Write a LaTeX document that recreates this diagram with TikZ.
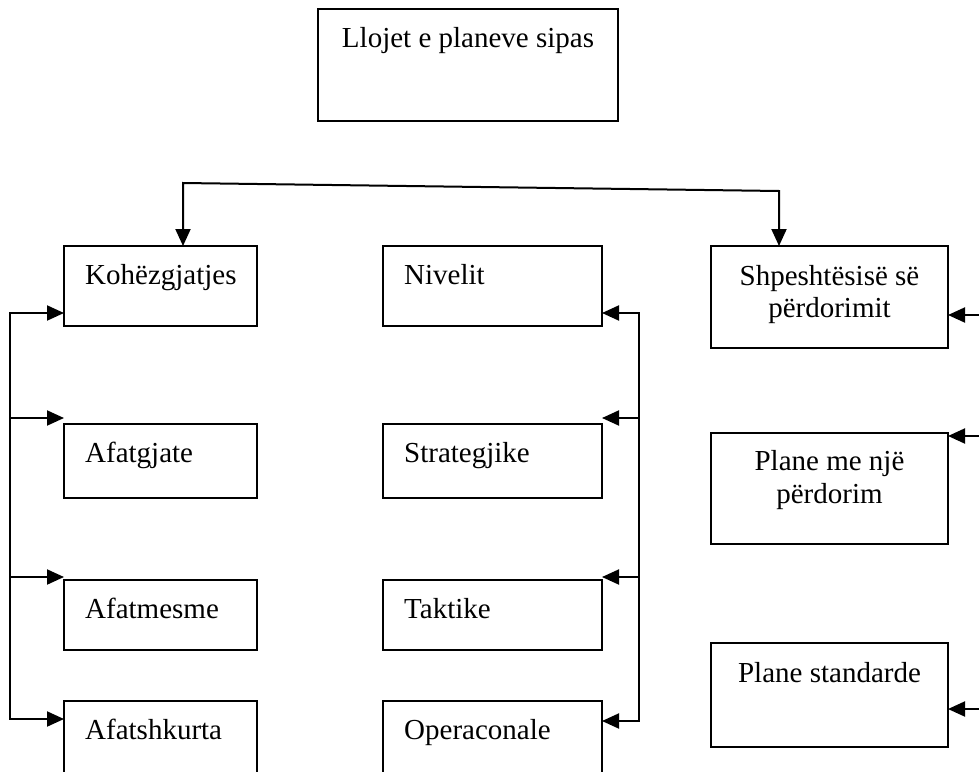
\documentclass[tikz,border=0pt]{standalone}
\usepackage{fontspec}
\setmainfont{Liberation Serif}
\usetikzlibrary{arrows.meta}
\begin{document}
\begin{tikzpicture}[x=1pt,y=-1pt,
  box/.style={draw, line width=1.9pt, rectangle, inner sep=0pt, outer sep=0pt, anchor=north west},
  lbl/.style={inner sep=0pt, font=\fontsize{29}{33}\selectfont},
  conn/.style={line width=2pt, -{Triangle[length=17pt,width=15pt]}},
  bus/.style={line width=2pt, {Triangle[length=17pt,width=15pt]}-{Triangle[length=17pt,width=15pt]}, line join=miter}]
\useasboundingbox (0,0) rectangle (979,771);
\clip (0,0) rectangle (979,771);

% title box
\node[box, minimum width=300pt, minimum height=112pt] (top) at (318,9) {};
\node[lbl, anchor=base] (topT) at (468,47) {Llojet e planeve sipas};

% first column
\node[box, minimum width=193pt, minimum height=80pt]  (koh) at (64,246) {};
\node[box, minimum width=193pt, minimum height=74pt]  (afg) at (64,424) {};
\node[box, minimum width=193pt, minimum height=70pt]  (afm) at (64,580) {};
\node[box, minimum width=193pt, minimum height=110pt] (afs) at (64,701) {};
\node[lbl, anchor=base west] (kohT) at ([shift={(21,38)}]koh.north west) {Kohëzgjatjes};
\node[lbl, anchor=base west] (afgT) at ([shift={(21,38)}]afg.north west) {Afatgjate};
\node[lbl, anchor=base west] (afmT) at ([shift={(21,38)}]afm.north west) {Afatmesme};
\node[lbl, anchor=base west] (afsT) at ([shift={(21,38)}]afs.north west) {Afatshkurta};

% second column
\node[box, minimum width=219pt, minimum height=80pt]  (niv) at (383,246) {};
\node[box, minimum width=219pt, minimum height=74pt]  (str) at (383,424) {};
\node[box, minimum width=219pt, minimum height=70pt]  (tak) at (383,580) {};
\node[box, minimum width=219pt, minimum height=110pt] (ope) at (383,701) {};
\node[lbl, anchor=base west] (nivT) at ([shift={(21,38)}]niv.north west) {Nivelit};
\node[lbl, anchor=base west] (strT) at ([shift={(21,38)}]str.north west) {Strategjike};
\node[lbl, anchor=base west] (takT) at ([shift={(21,38)}]tak.north west) {Taktike};
\node[lbl, anchor=base west] (opeT) at ([shift={(21,38)}]ope.north west) {Operaconale};

% third column
\node[box, minimum width=237pt, minimum height=102pt] (shp) at (711,246) {};
\node[box, minimum width=237pt, minimum height=111pt] (nje) at (711,433) {};
\node[box, minimum width=237pt, minimum height=104pt] (std) at (711,643) {};
\node[lbl, anchor=base] (shpA) at (829.5,285) {Shpeshtësisë së};
\node[lbl, anchor=base] (shpB) at (829.5,317) {përdorimit};
\node[lbl, anchor=base] (njeA) at (829.5,470) {Plane me një};
\node[lbl, anchor=base] (njeB) at (829.5,503) {përdorim};
\node[lbl, anchor=base] (stdT) at (829.5,682) {Plane standarde};

% top connector
\coordinate (hL) at (183,183);
\coordinate (hR) at (779,191);
\draw[bus] (hL |- koh.north) -- (hL) -- (hR) -- (hR |- shp.north);

% left bus
\coordinate (a1) at (10,313);
\coordinate (a2) at (10,418);
\coordinate (a3) at (10,577);
\coordinate (a4) at (10,719);
\draw[bus] (a1 -| koh.west) -- (a1) -- (a4) -- (a4 -| afs.west);
\draw[conn] (a2) -- (a2 -| afg.west);
\draw[conn] (a3) -- (a3 -| afm.west);

% middle bus
\coordinate (b1) at (639,313);
\coordinate (b2) at (639,418);
\coordinate (b3) at (639,577);
\coordinate (b4) at (639,721);
\draw[bus] (b1 -| niv.east) -- (b1) -- (b4) -- (b4 -| ope.east);
\draw[conn] (b2) -- (b2 -| str.east);
\draw[conn] (b3) -- (b3 -| tak.east);

% right side connectors
\coordinate (c1) at (990,315);
\coordinate (c2) at (990,436);
\coordinate (c3) at (990,709);
\draw[conn] (c1) -- (c1 -| shp.east);
\draw[conn] (c2) -- (c2 -| nje.east);
\draw[conn] (c3) -- (c3 -| std.east);
\end{tikzpicture}
\end{document}
